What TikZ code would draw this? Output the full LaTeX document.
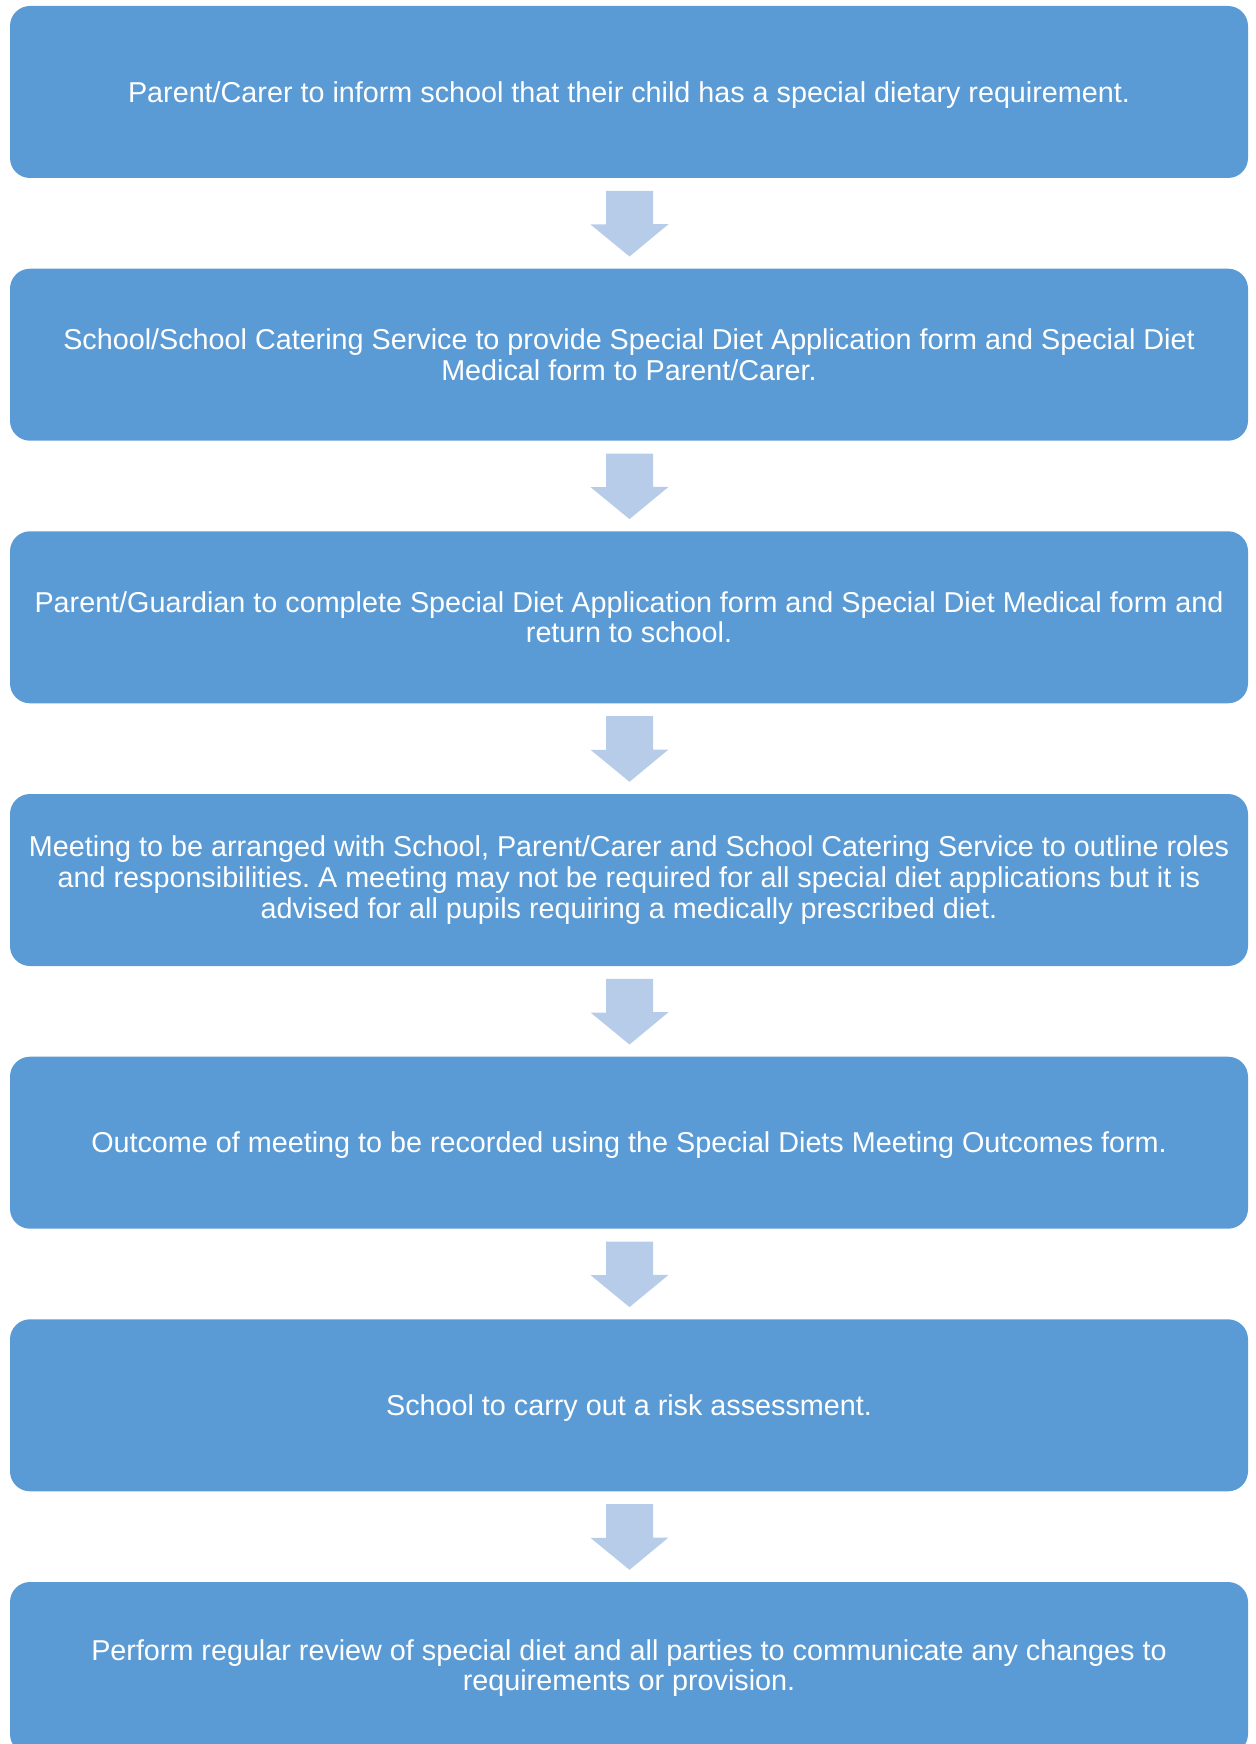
\documentclass[tikz,border=0pt]{standalone}
\usepackage{fontspec}
\setmainfont{Liberation Sans}
\frenchspacing
\definecolor{boxblue}{HTML}{5B9BD5}
\definecolor{arrowblue}{HTML}{B7CCE9}
\begin{document}
\begin{tikzpicture}[x=1pt,y=1pt,
  stepbox/.style={rectangle, rounded corners=20pt, fill=boxblue, draw=none,
    minimum width=1238pt, minimum height=172pt, text=white, align=center,
    font=\fontsize{28.75}{30.6}\selectfont, inner sep=0pt},
  oneline/.style={text height=20.5pt, text depth=0pt},
  blockarrow/.style={fill=arrowblue, draw=none}]
\useasboundingbox (0,0) rectangle (1255,-1744);
\node[stepbox,oneline] (b1) at (629,-92) {Parent/Carer to inform school that their child has a special dietary requirement.};
\node[stepbox] (b2) at (629,-354.7) {School/School Catering Service to provide Special Diet Application form and Special Diet\\Medical form to Parent/Carer.};
\node[stepbox] (b3) at (629,-617.3) {Parent/Guardian to complete Special Diet Application form and Special Diet Medical form and\\return to school.};
\node[stepbox] (b4) at (629,-880) {Meeting to be arranged with School, Parent/Carer and School Catering Service to outline roles\\and responsibilities. A meeting may not be required for all special diet applications but it is\\advised for all pupils requiring a medically prescribed diet.};
\node[stepbox,oneline] (b5) at (629,-1142.7) {Outcome of meeting to be recorded using the Special Diets Meeting Outcomes form.};
\node[stepbox,oneline] (b6) at (629,-1405.3) {School to carry out a risk assessment.};
\node[stepbox] (b7) at (629,-1668) {Perform regular review of special diet and all parties to communicate any changes to\\requirements or provision.};
\foreach \a/\b in {b1/b2,b2/b3,b3/b4,b4/b5,b5/b6,b6/b7}{
  \fill[blockarrow] ([xshift=0.5pt]\a.south) ++(-23.5,-12.7) -- ++(47,0) -- ++(0,-33.3) -- ++(15.5,0)
    -- ([xshift=0.5pt,yshift=12pt]\b.north) -- ++(-39,32) -- ++(15.5,0) -- cycle;
}
\end{tikzpicture}
\end{document}
